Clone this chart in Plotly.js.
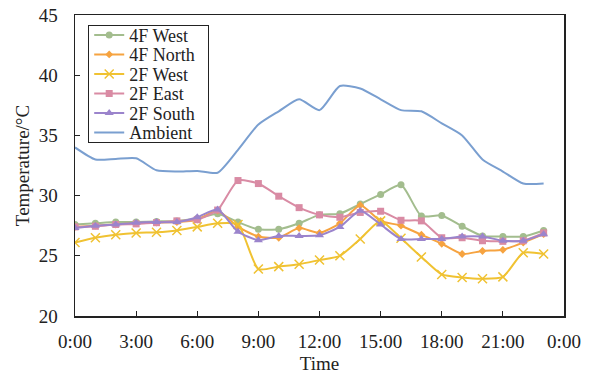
<!DOCTYPE html>
<html>
<head>
<meta charset="utf-8">
<script src="https://cdn.plot.ly/plotly-3.0.1.min.js"></script>
<style>html,body{margin:0;padding:0;background:#fff;}#chart{width:593px;height:376px;}</style>
</head>
<body>
<div id="chart"></div>
<script>
// hour of day (0:00 .. 23:00)
const hours = [0,1,2,3,4,5,6,7,8,9,10,11,12,13,14,15,16,17,18,19,20,21,22,23];
const tickHours = [0,3,6,9,12,15,18,21,24];
const tickLabels = ['0:00','3:00','6:00','9:00','12:00','15:00','18:00','21:00','0:00'];

const west4F  = [27.6,27.7,27.8,27.8,27.85,27.9,28.1,28.5,27.8,27.2,27.2,27.7,28.4,28.5,29.3,30.1,30.9,28.3,28.35,27.45,26.65,26.6,26.6,27.1];
const north4F = [27.4,27.5,27.6,27.7,27.75,27.8,28.0,28.75,27.4,26.6,26.5,27.3,26.9,27.7,29.2,27.9,27.5,26.75,26.0,25.15,25.4,25.5,26.1,26.8];
const west2F  = [26.1,26.5,26.75,26.9,26.95,27.1,27.4,27.7,27.6,23.9,24.1,24.3,24.65,25.0,26.4,27.9,26.45,24.9,23.45,23.2,23.1,23.25,25.25,25.15];
const east2F  = [27.4,27.45,27.6,27.65,27.75,27.9,28.0,28.8,31.25,31.0,29.95,29.0,28.4,28.2,28.6,28.7,27.95,27.9,26.5,26.5,26.25,26.2,26.25,26.9];
const south2F = [27.3,27.5,27.6,27.75,27.8,27.8,28.2,28.85,27.0,26.3,26.65,26.65,26.7,27.4,28.75,27.6,26.4,26.4,26.4,26.6,26.6,26.25,26.25,26.8];
const ambient = [34.0,33.0,33.05,33.1,32.1,32.0,32.05,31.9,33.8,35.9,37.0,38.0,37.1,39.1,38.9,38.0,37.1,37.0,36.0,35.0,33.0,32.0,31.0,31.0];

const seriesNames = ['4F West','4F North','2F West','2F East','2F South','Ambient'];
const seriesData = [west4F, north4F, west2F, east2F, south2F, ambient];
const colors = ['#a3bd8e','#f6a340','#f0c232','#d98ba4','#9b84cc','#7a9fd0'];
const symbols = ['circle','diamond','x-thin-open','square','triangle-up', null];
const sizes = [7,6,9,7,8,0];

const traces = seriesNames.map((name, i) => {
  const t = {
    x: hours, y: seriesData[i], name: name, type: 'scatter',
    mode: symbols[i] ? 'lines+markers' : 'lines',
    line: {color: colors[i], width: 2, shape: 'spline', smoothing: 0.6}
  };
  if (symbols[i]) {
    t.marker = {symbol: symbols[i], size: sizes[i], color: colors[i],
      line: {color: colors[i], width: symbols[i] === 'x-thin-open' ? 1.5 : 0}};
  }
  return t;
});

const fam = '"Liberation Serif", "Times New Roman", serif';
const ink = '#222';

const layout = {
  width: 593, height: 376,
  margin: {l: 75, r: 29, t: 15, b: 60, pad: 0},
  paper_bgcolor: '#fff', plot_bgcolor: '#fff',
  font: {family: fam, size: 19, color: ink},
  showlegend: true,
  legend: {
    x: 0.027, y: 0.967, xanchor: 'left', yanchor: 'top',
    bgcolor: '#fff', bordercolor: ink, borderwidth: 1,
    font: {family: fam, size: 18, color: ink}
  },
  xaxis: {
    range: [0, 24], tickvals: tickHours, ticktext: tickLabels,
    ticks: 'inside', ticklen: 5, tickwidth: 1, tickcolor: ink,
    showline: true, linecolor: ink, linewidth: 1.5, mirror: true,
    showgrid: false, zeroline: false, ticklabelstandoff: 8,
    title: {text: 'Time', font: {family: fam, size: 19, color: ink}, standoff: 5},
    tickfont: {family: fam, size: 19, color: ink}
  },
  yaxis: {
    range: [20, 45], dtick: 5,
    ticks: 'inside', ticklen: 5, tickwidth: 1, tickcolor: ink,
    showline: true, linecolor: ink, linewidth: 1.5, mirror: true,
    showgrid: false, zeroline: false, ticklabelstandoff: 12,
    title: {text: 'Temperature/°C', font: {family: fam, size: 19, color: ink}, standoff: 4},
    tickfont: {family: fam, size: 19, color: ink}
  }
};

Plotly.newPlot('chart', traces, layout, {displayModeBar: false, staticPlot: true}).then(gd => {
  // tighten legend row spacing to match the reference
  const items = gd.querySelectorAll('.legend .traces');
  const spacing = 19.5, first = 10;
  items.forEach((it, i) => {
    const m = /translate\(([-\d.]+)/.exec(it.getAttribute('transform') || '');
    const x0 = m ? parseFloat(m[1]) : 0;
    it.setAttribute('transform', 'translate(' + x0 + ',' + (first + i * spacing) + ')');
  });
  const bg = gd.querySelector('.legend rect.bg');
  if (bg) {
    bg.setAttribute('height', first + (items.length - 1) * spacing + 9.5);
    bg.setAttribute('width', 120);
  }
});
</script>
</body>
</html>
